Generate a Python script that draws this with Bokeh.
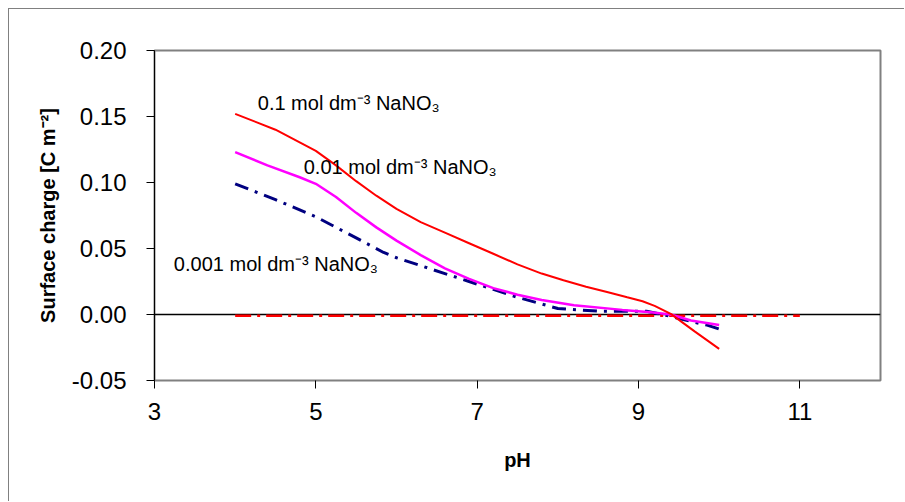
from bokeh.plotting import figure
from bokeh.models import Span, Label, FixedTicker, NumeralTickFormatter
from bokeh.embed import file_html
from bokeh.resources import INLINE

# ---- data ----
ph_01 = [4.0, 4.5, 5.0, 5.25, 5.5, 5.75, 6.0, 6.3, 6.6, 6.9, 7.2, 7.5, 7.8, 8.07, 8.35, 8.61, 8.86, 9.05, 9.2, 9.4, 9.7, 10.0]
q_01 = [0.152, 0.140, 0.124, 0.113, 0.101, 0.090, 0.080, 0.070, 0.062, 0.054, 0.046, 0.038, 0.031, 0.026, 0.021, 0.017, 0.013, 0.010, 0.0065, 0.0005, -0.013, -0.026]

ph_001 = [4.0, 4.4, 4.8, 5.0, 5.25, 5.5, 5.75, 6.0, 6.3, 6.6, 6.9, 7.2, 7.5, 7.8, 8.2, 8.8, 9.15, 9.4, 9.65, 10.0]
q_001 = [0.123, 0.113, 0.104, 0.099, 0.089, 0.077, 0.066, 0.056, 0.045, 0.035, 0.027, 0.020, 0.015, 0.011, 0.007, 0.0035, 0.0017, 0.0, -0.0045, -0.008]

ph_0001 = [4.0, 4.5, 5.0, 5.5, 5.84, 6.0, 6.3, 6.6, 6.9, 7.2, 7.5, 7.8, 8.0, 8.5, 9.1, 9.3, 9.5, 9.7, 9.85, 10.0]
q_0001 = [0.099, 0.087, 0.074, 0.058, 0.047, 0.043, 0.037, 0.031, 0.025, 0.019, 0.013, 0.008, 0.0045, 0.0025, 0.0025, 0.0, -0.003, -0.006, -0.008, -0.011]

ph_zero = [4.0, 11.0]
q_zero = [-0.001, -0.001]

x_ticks = [3, 5, 7, 9, 11]
y_ticks = [-0.05, 0.0, 0.05, 0.10, 0.15, 0.20]

labels_text = ["0.1 mol dm\u207b\u00b3 NaNO\u2083", "0.01 mol dm\u207b\u00b3 NaNO\u2083", "0.001 mol dm\u207b\u00b3 NaNO\u2083"]
labels_x = [4.28, 4.85, 3.24]
labels_y = [0.160, 0.1114, 0.0386]

FONT = "Liberation Sans"

p = figure(width=896, height=493, x_range=(3, 12), y_range=(-0.05, 0.20),
           output_backend="svg", toolbar_location=None,
           min_border_left=145, min_border_right=25, min_border_top=41, min_border_bottom=122,
           background_fill_color="white", border_fill_color="white")
p.styles = {"border-left": "1px solid #808080", "border-top": "1px solid #808080",
            "margin-left": "8px", "margin-top": "8px"}

p.xgrid.visible = False
p.ygrid.visible = False
p.outline_line_color = "#808080"
p.outline_line_width = 2

# zero line
p.add_layout(Span(location=0, dimension="width", line_color="black", line_width=1.5, level="underlay"))

p.line(ph_zero, q_zero, line_color="#FF0000", line_width=2.5, line_dash="16 6 3 6")
p.line(ph_0001, q_0001, line_color="#000080", line_width=3, line_dash="14 7 3 7")
p.line(ph_001, q_001, line_color="#FF00FF", line_width=2.5)
p.line(ph_01, q_01, line_color="#FF0000", line_width=2)

for t, lx, ly in zip(labels_text, labels_x, labels_y):
    p.add_layout(Label(x=lx, y=ly, text=t, text_font=FONT, text_font_size="20px",
                       text_color="black", text_baseline="alphabetic", text_align="left"))

# axes
p.xaxis.ticker = FixedTicker(ticks=x_ticks)
p.yaxis.ticker = FixedTicker(ticks=y_ticks)
p.yaxis.formatter = NumeralTickFormatter(format="0.00")
p.xaxis.minor_tick_line_color = None
p.yaxis.minor_tick_line_color = None
for ax in (p.xaxis, p.yaxis):
    ax.major_tick_out = 8
    ax.major_tick_in = 0
    ax.major_tick_line_color = "black"
    ax.major_label_text_font = FONT
    ax.major_label_text_font_size = "24px"
    ax.major_label_text_color = "black"
    ax.axis_label_text_font = FONT
    ax.axis_label_text_font_size = "20px"
    ax.axis_label_text_font_style = "bold"
    ax.axis_label_text_color = "black"
p.xaxis.axis_line_color = None
p.yaxis.axis_line_color = "black"
p.yaxis.axis_line_width = 1
p.xaxis.major_label_standoff = 14
p.yaxis.major_label_standoff = 20
p.xaxis.axis_label = "pH"
p.yaxis.axis_label = "Surface charge [C m\u207b\u00b2]"
p.xaxis.axis_label_standoff = 26
p.yaxis.axis_label_standoff = 10

open("out.html", "w").write(file_html(p, INLINE))
